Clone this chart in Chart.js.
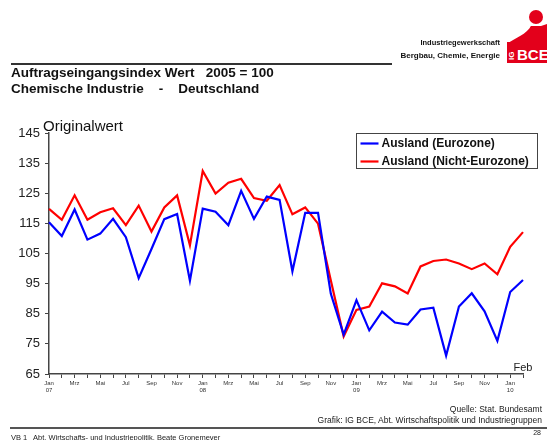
<!DOCTYPE html>
<html>
<head>
<meta charset="utf-8">
<script src="https://cdn.jsdelivr.net/npm/chart.js@4"></script>
<style>
    html, body { margin: 0; padding: 0; background: #fff; }
    body { width: 547px; height: 440px; position: relative; overflow: hidden; font-family: "Liberation Sans", Arial, sans-serif; color: #111; }
    .abs { position: absolute; white-space: pre; }
    #chart { position: absolute; left: 0; top: 0; }
</style>
</head>
<body>
<canvas id="chart" width="547" height="440"></canvas>

<!-- header -->
<div class="abs" style="right:47px; top:38px; font-size:7.5px; font-weight:bold;">Industriegewerkschaft</div>
<div class="abs" style="right:47px; top:51px; font-size:8px; font-weight:bold;">Bergbau, Chemie, Energie</div>
<div class="abs" style="left:11px; top:63px; width:381px; height:1.5px; background:#333;"></div>
<svg class="abs" style="left:505px; top:8px;" width="42" height="56" viewBox="0 0 42 56">
    <circle cx="31" cy="9" r="7" fill="#e3001b"/>
    <path d="M2 36 C10 30 22 26 26 18 L36 18 L42 16 L42 36 Z" fill="#e3001b"/>
    <path d="M26 18 C28 26 34 28 42 24 L42 36 L20 36 Z" fill="#e3001b"/>
    <rect x="2" y="34" width="40" height="21" fill="#e3001b"/>
    <text x="9" y="52" transform="rotate(-90 9 52)" font-family="Liberation Sans, Arial" font-weight="bold" font-size="8" fill="#fff">IG</text>
    <text x="12" y="52" font-family="Liberation Sans, Arial" font-weight="bold" font-size="15" fill="#fff">BCE</text>
</svg>

<!-- title -->
<div class="abs" style="left:11px; top:65px; font-size:13.5px; font-weight:bold;">Auftragseingangsindex Wert   2005 = 100</div>
<div class="abs" style="left:11px; top:81px; font-size:13.5px; font-weight:bold;">Chemische Industrie    -    Deutschland</div>
<div class="abs" style="left:43px; top:117px; font-size:15px;">Originalwert</div>

<!-- footer -->
<div class="abs" style="right:5px; top:404px; font-size:8.5px; color:#222;">Quelle: Stat. Bundesamt</div>
<div class="abs" style="right:5px; top:415px; font-size:8.5px; color:#222;">Grafik: IG BCE, Abt. Wirtschaftspolitik und Industriegruppen</div>
<div class="abs" style="left:10px; top:427px; width:537px; height:2px; background:#555;"></div>
<div class="abs" style="right:6px; top:429px; font-size:7px; color:#222;">28</div>
<div class="abs" style="left:11px; top:433px; font-size:7.5px; color:#222;">VB 1   Abt. Wirtschafts- und Industriepolitik, Beate Gronemeyer</div>

<script>
// Monatsachse Jan 2007 .. Feb 2010
const monthNames = ['Jan', 'Feb', 'Mrz', 'Apr', 'Mai', 'Jun', 'Jul', 'Aug', 'Sep', 'Okt', 'Nov', 'Dez'];
const startYear = 2007;
const monthCount = 38;

const yTicks = { min: 65, max: 145, step: 10 };

// Auftragseingang Ausland (Eurozone)
const eurozone = [
    115.4, 110.8, 119.6, 109.6, 111.6, 116.5, 110.4, 96.8, 106.5, 116.4, 118.1, 96.0,
    119.9, 118.9, 114.4, 125.8, 116.5, 123.9, 122.8, 99.1, 118.5, 118.5, 91.6, 78.1,
    89.5, 79.5, 85.7, 82.1, 81.4, 86.4, 87.0, 71.1, 87.4, 91.8, 85.8, 76.0,
    92.2, 96.2
];

// Auftragseingang Ausland (Nicht-Eurozone)
const nichtEurozone = [
    119.8, 116.2, 124.3, 116.2, 118.7, 120.0, 114.4, 120.9, 112.3, 120.3, 124.3, 107.7,
    132.4, 124.9, 128.5, 129.8, 123.4, 122.5, 127.7, 118.0, 120.3, 114.9, 96.0, 77.5,
    86.3, 87.4, 95.1, 94.1, 91.7, 100.7, 102.5, 103.0, 101.7, 99.8, 101.7, 98.1,
    107.2, 112.1
];

const seriesLabels = ['Ausland (Eurozone)', 'Ausland (Nicht-Eurozone)'];
const seriesColors = ['#0000ff', '#ff0000'];

const labels = Array.from({ length: monthCount }, (_, i) => {
    const m = i % 12;
    const y = startYear + Math.floor(i / 12);
    return monthNames[m] + ' ' + String(y).slice(2);
});

// "Feb" am Ende der Achse + Legende im Kasten
const extrasPlugin = {
    id: 'extras',
    afterDraw(chart) {
        const ctx = chart.ctx;
        const xs = chart.scales.x;
        const area = chart.chartArea;
        ctx.save();
        ctx.fillStyle = '#222';
        ctx.font = '11px "Liberation Sans", Arial, sans-serif';
        ctx.textAlign = 'center';
        ctx.textBaseline = 'alphabetic';
        const last = labels[labels.length - 1].split(' ')[0];
        ctx.fillText(last, xs.getPixelForValue(labels.length - 1), area.bottom - 3);

        // legend box
        const bx = 356.5, by = 133.5, bw = 181, bh = 35;
        ctx.fillStyle = '#fff';
        ctx.fillRect(bx, by, bw, bh);
        ctx.strokeStyle = '#444';
        ctx.lineWidth = 1;
        ctx.strokeRect(bx, by, bw, bh);
        ctx.font = 'bold 12px "Liberation Sans", Arial, sans-serif';
        ctx.textAlign = 'left';
        ctx.textBaseline = 'middle';
        chart.data.datasets.forEach((ds, i) => {
            const ly = by + 10 + i * 18;
            ctx.strokeStyle = ds.borderColor;
            ctx.lineWidth = 2.2;
            ctx.beginPath();
            ctx.moveTo(bx + 4, ly);
            ctx.lineTo(bx + 22, ly);
            ctx.stroke();
            ctx.fillStyle = '#111';
            ctx.fillText(ds.label, bx + 25, ly + 0.5);
        });
        ctx.restore();
    }
};

new Chart(document.getElementById('chart'), {
    type: 'line',
    data: {
        labels: labels,
        datasets: [
            { label: seriesLabels[0], data: eurozone, borderColor: seriesColors[0] },
            { label: seriesLabels[1], data: nichtEurozone, borderColor: seriesColors[1] }
        ].map(ds => Object.assign(ds, { borderWidth: 2.2, pointRadius: 0, tension: 0, fill: false }))
    },
    options: {
        responsive: false,
        animation: false,
        layout: { padding: { left: 0, top: 133, right: 24, bottom: 36 } },
        plugins: {
            legend: { display: false },
            tooltip: { enabled: false }
        },
        scales: {
            x: {
                offset: false,
                afterFit: s => { s.height = 30; },
                border: { display: true, color: '#444', width: 1.5 },
                grid: { display: true, drawOnChartArea: false, tickLength: 4, color: '#444', lineWidth: 1 },
                ticks: {
                    autoSkip: false,
                    maxRotation: 0,
                    padding: 2,
                    color: '#333',
                    font: { size: 6, family: '"Liberation Sans", Arial, sans-serif' },
                    callback: (value, index) => {
                        if (index % 2 !== 0) return '';
                        const parts = labels[index].split(' ');
                        return parts[0] === 'Jan' ? [parts[0], parts[1]] : parts[0];
                    }
                }
            },
            y: {
                min: yTicks.min,
                max: yTicks.max,
                afterFit: s => { s.width = 49; },
                border: { display: true, color: '#444', width: 1.5 },
                grid: { display: true, drawOnChartArea: false, tickLength: 4, color: '#444' },
                ticks: {
                    stepSize: yTicks.step,
                    padding: 5,
                    color: '#222',
                    font: { size: 13, family: '"Liberation Sans", Arial, sans-serif' }
                }
            }
        }
    },
    plugins: [extrasPlugin]
});
</script>
</body>
</html>
